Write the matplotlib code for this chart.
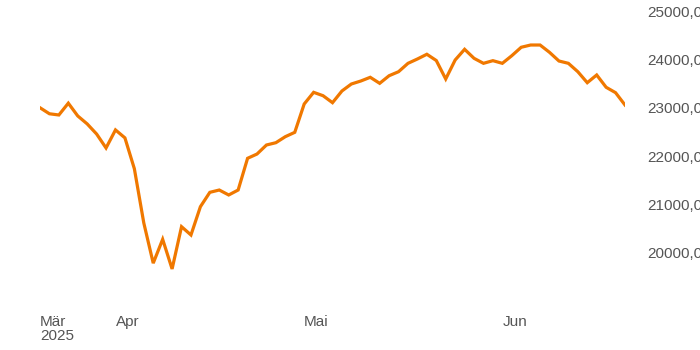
import matplotlib
matplotlib.use('Agg')
import matplotlib.pyplot as plt
import matplotlib.ticker as mticker

plt.rcParams['font.family'] = ['Liberation Sans', 'DejaVu Sans']

# Schlusskurse je Handelstag (20.03.2025 - 19.06.2025)
values = [
    23005, 22880, 22855, 23100, 22835, 22670, 22460, 22170, 22545, 22380,
    21740, 20615, 19780, 20275, 19660, 20537, 20365, 20952, 21250, 21298,
    21195, 21298, 21956, 22045, 22232, 22280, 22405, 22495, 23083, 23325,
    23255, 23110, 23353, 23498, 23560, 23637, 23512, 23670, 23753, 23927,
    24017, 24115, 23985, 23602, 23996, 24218, 24031, 23927, 23982, 23927,
    24085, 24260, 24307, 24307, 24155, 23975, 23927, 23753, 23525, 23685,
    23430, 23318, 23062,
]
# Monatsanfänge als Handelstag-Index
month_idx = [0, 8, 28, 49]
month_labels = ['Mär\n2025', 'Apr', 'Mai', 'Jun']
y_ticks = [20000, 21000, 22000, 23000, 24000, 25000]

fig = plt.figure(figsize=(7, 3.5), dpi=100)
ax = fig.add_axes([40 / 700, 1 - 305 / 350, 585 / 700, 305 / 350])

ax.plot(range(len(values)), values, color='#F07800', linewidth=2.3,
        solid_joinstyle='miter')

ax.set_xlim(0, len(values) - 1)
ax.set_ylim(18912, 25241)

ax.set_xticks(month_idx)
ax.set_xticklabels(month_labels, ha='left', linespacing=1.0)
ax.yaxis.tick_right()
ax.set_yticks(y_ticks)
ax.yaxis.set_major_formatter(mticker.FuncFormatter(lambda v, p: f'{v:.2f}'.replace('.', ',')))

ax.tick_params(axis='both', length=0, labelsize=11, labelcolor='#555555')
ax.tick_params(axis='x', pad=7)
ax.tick_params(axis='y', pad=16)
for s in ax.spines.values():
    s.set_visible(False)

fig.savefig('out.png', dpi=100, facecolor='white')
